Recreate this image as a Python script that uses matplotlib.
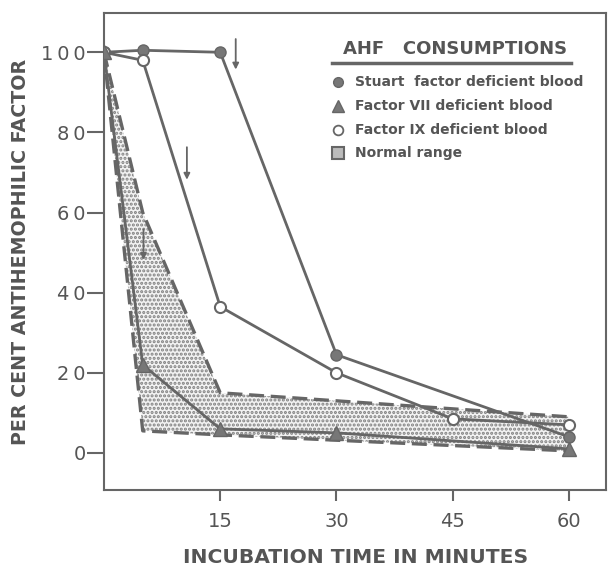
import matplotlib
matplotlib.use("Agg")
import matplotlib.pyplot as plt

stuart_t = [0, 5, 15, 30, 60]
stuart_v = [100, 100.5, 100, 24.5, 4]

f7_t = [0, 5, 15, 30, 60]
f7_v = [100, 22, 6, 5, 1]

f9_t = [0, 5, 15, 30, 45, 60]
f9_v = [100, 98, 36.5, 20, 8.5, 7]

normal_t = [0, 5, 15, 60]
normal_hi = [100, 60, 15, 9]
normal_lo = [100, 5.5, 4.5, 0.5]

# arrows: (x, y from, y to)
arrows = [(17, 104, 95), (10.7, 77, 67.5), (5.1, 56.5, 47.5)]

xticks = [15, 30, 45, 60]
yticks = [0, 20, 40, 60, 80, 100]

legend_labels = ["Stuart  factor deficient blood",
                 "Factor VII deficient blood",
                 "Factor IX deficient blood",
                 "Normal range"]

gray = "#666666"
tcol = "#555555"

plt.rcParams["hatch.color"] = "#777777"
plt.rcParams["hatch.linewidth"] = 1.5

fig = plt.figure(figsize=(6.08, 5.66), dpi=100)
ax = fig.add_axes([0.171, 0.134, 0.826, 0.843])

# normal range band
ax.fill_between(normal_t, normal_lo, normal_hi, facecolor="#f2f2f2",
                edgecolor="#808080", hatch="....", linewidth=0, zorder=1)
ax.plot(normal_t, normal_hi, color=gray, lw=2.4, ls=(0, (4.5, 2)), zorder=2)
ax.plot(normal_t, normal_lo, color=gray, lw=2.4, ls=(0, (4.5, 2)), zorder=2)

ax.plot(stuart_t, stuart_v, color=gray, lw=2, marker="o", ms=8,
        mfc="#777777", mec=gray, zorder=4)
ax.plot(f9_t, f9_v, color=gray, lw=2, marker="o", ms=8,
        mfc="white", mec=gray, mew=1.5, zorder=4)
ax.plot(f7_t, f7_v, color=gray, lw=2, marker="^", ms=10,
        mfc="#777777", mec=gray, zorder=4)

for x, y0, y1 in arrows:
    ax.annotate("", xy=(x, y1), xytext=(x, y0),
                arrowprops=dict(arrowstyle="-|>", color=gray, lw=1.3,
                                mutation_scale=9))

ax.set_xlim(0, 64.8)
ax.set_ylim(-9.3, 109.8)
ax.set_xticks(xticks)
ax.set_yticks(yticks)
ax.set_xticklabels([str(t) for t in xticks], fontsize=14, color=tcol)
ax.set_yticklabels(["\u2009".join(str(t)) for t in yticks], fontsize=14,
                   color=tcol)
ax.tick_params(axis="both", width=1.5, color=gray)
ax.tick_params(axis="y", length=12, pad=1)
ax.tick_params(axis="x", length=8, pad=8)
for s in ax.spines.values():
    s.set_color(gray)
    s.set_linewidth(1.5)

ax.set_xlabel("INCUBATION TIME IN MINUTES", fontsize=14.6, color=tcol,
              fontweight="bold", labelpad=12)
ax.set_ylabel("PER CENT ANTIHEMOPHILIC FACTOR", fontsize=13.7, color=tcol,
              fontweight="bold", labelpad=8)

# legend drawn by hand
ax.text(0.70, 0.925, "AHF   CONSUMPTIONS", transform=ax.transAxes,
        fontsize=13, fontweight="bold", color=tcol, ha="center", va="center")
ax.plot([0.455, 0.93], [0.895, 0.895], transform=ax.transAxes, color=gray,
        lw=2.5)
rows = [0.855, 0.805, 0.755, 0.706]
styles = [dict(marker="o", ms=7, mfc="#777777", mec=gray),
          dict(marker="^", ms=8, mfc="#777777", mec=gray),
          dict(marker="o", ms=7, mfc="white", mec=gray, mew=1.3),
          dict(marker="s", ms=9, mfc="#bbbbbb", mec=gray, mew=1.5)]
for y, lab, st in zip(rows, legend_labels, styles):
    ax.plot([0.466], [y], transform=ax.transAxes, ls="none", **st)
    ax.text(0.50, y, lab, transform=ax.transAxes, fontsize=10,
            fontweight="bold", color=tcol, va="center")

fig.savefig("out.png", dpi=100, facecolor="white")
